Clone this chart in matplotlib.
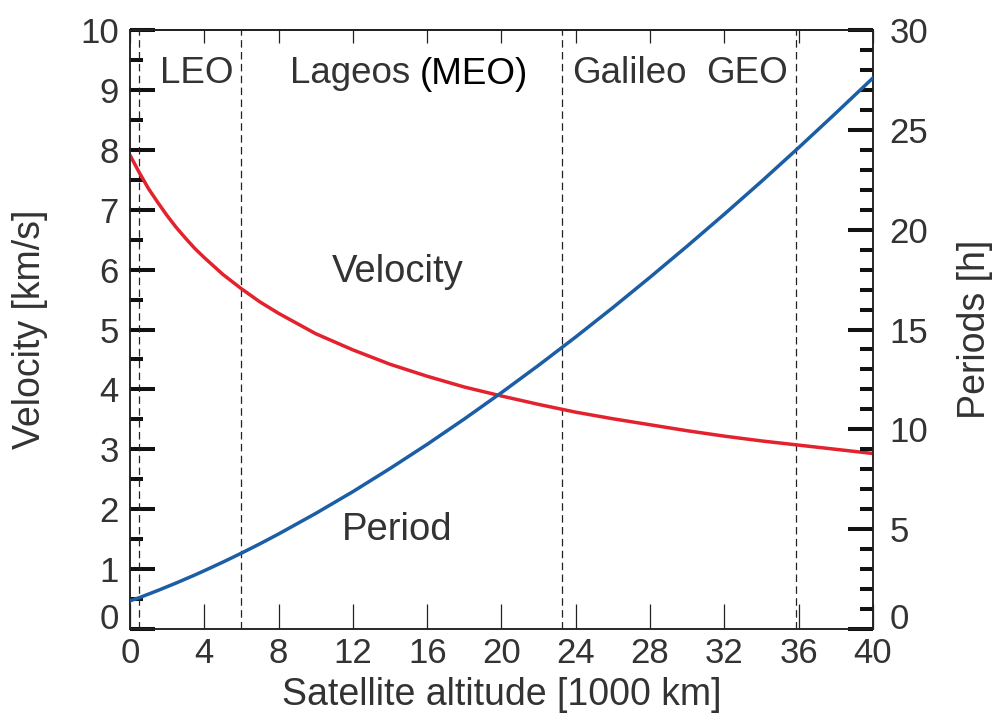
import matplotlib
matplotlib.use("Agg")
import matplotlib.pyplot as plt
from matplotlib.ticker import MultipleLocator

# altitude in 1000 km
altitude = [0, 0.5, 1, 1.5, 2, 2.5, 3, 3.5, 4, 5, 6, 7, 8, 10, 12, 14, 16, 18, 20,
            22, 24, 26, 28, 30, 32, 34, 36, 38, 40]
# velocity [km/s]
velocity = [7.91, 7.62, 7.35, 7.12, 6.90, 6.70, 6.52, 6.35, 6.20, 5.92, 5.68, 5.46, 5.27,
            4.93, 4.66, 4.42, 4.22, 4.04, 3.89,
            3.75, 3.62, 3.51, 3.41, 3.31, 3.22, 3.14, 3.07, 3.00, 2.93]
# period [h]
period = [1.41, 1.57, 1.75, 1.93, 2.12, 2.31, 2.51, 2.71, 2.92, 3.35, 3.80, 4.27, 4.76,
          5.79, 6.88, 8.04, 9.25, 10.52, 11.84,
          13.21, 14.63, 16.10, 17.62, 19.18, 20.78, 22.42, 24.11, 25.84, 27.60]

orbit_borders = [0.5, 6.0, 23.25, 35.85]
region_labels = [(1.6, "LEO"), (8.6, "Lageos"), (23.8, "Galileo"), (31.0, "GEO")]

plt.rcParams['font.family'] = ['Liberation Sans', 'DejaVu Sans']
txt = '#333333'

fig = plt.figure(figsize=(9.97, 7.22), dpi=100)
ax = fig.add_axes([0.1304, 0.1288, 0.7452, 0.8296])
ax2 = ax.twinx()

ax.plot(altitude, velocity, color='#e3222d', lw=2.5, zorder=3,
        solid_joinstyle='round', solid_capstyle='round')
ax2.plot(altitude, period, color='#1c5ea6', lw=2.5, zorder=3,
         solid_joinstyle='round', solid_capstyle='round')

for xb in orbit_borders:
    ax.axvline(xb, color='#222222', lw=0.9, linestyle=(0, (6, 3.5)), zorder=2)

ax.set_xlim(0, 40)
ax.set_ylim(0, 10)
ax2.set_ylim(0, 30)

ax.xaxis.set_major_locator(MultipleLocator(4))
ax.set_yticks(range(0, 11))
ax.yaxis.set_minor_locator(MultipleLocator(0.5))
ax2.set_yticks(range(0, 31, 5))
ax2.yaxis.set_minor_locator(MultipleLocator(1))

ax.tick_params(axis='x', which='major', direction='in', length=18, width=0.9,
               labelsize=25, labelcolor=txt, pad=6, color='#222222')
ax.tick_params(axis='y', which='major', direction='in', length=18, width=2.9,
               labelsize=25, labelcolor=txt, pad=8, color='#111111')
ax.tick_params(axis='y', which='minor', direction='in', length=9.5, width=2.9,
               color='#111111')
ax2.tick_params(axis='y', which='major', direction='in', length=18, width=2.9,
                labelsize=25, labelcolor=txt, pad=12, color='#111111')
ax2.tick_params(axis='y', which='minor', direction='in', length=9.5, width=2.9,
                color='#111111')

# zero labels sit a little above the bottom spine
ax.get_yticklabels()[0].set_va('baseline')
ax2.get_yticklabels()[0].set_va('baseline')

top = ax.secondary_xaxis('top')
top.xaxis.set_major_locator(MultipleLocator(4))
top.tick_params(direction='in', length=9.5, width=0.9, labeltop=False, color='#222222')

for a in (ax, ax2):
    for s in a.spines.values():
        s.set_linewidth(1.1)
        s.set_color('#222222')
top.spines['top'].set_linewidth(1.1)

ax.set_xlabel("Satellite altitude [1000 km]", fontsize=27, color=txt)
ax.set_ylabel("Velocity [km/s]", fontsize=27, color=txt)
ax2.set_ylabel("Periods [h]", fontsize=27, color=txt)
ax.xaxis.set_label_coords(0.5, -0.110)
ax.yaxis.set_label_coords(-0.1346, 0.5)
ax2.yaxis.set_label_coords(1.137, 0.5)
for lab in (ax.xaxis.label, ax.yaxis.label, ax2.yaxis.label):
    lab.set_va('center')
    lab.set_ha('center')

for xl, name in region_labels:
    ax.text(xl, 9.28, name, fontsize=26.5, color=txt, ha='left', va='center')
ax.text(15.6, 9.25, "(MEO)", fontsize=26.5, color='black', ha='left', va='center')

ax.text(14.4, 5.96, "Velocity", fontsize=27.5, color=txt, ha='center', va='center')
ax.text(14.4, 1.65, "Period", fontsize=27.5, color=txt, ha='center', va='center')

fig.savefig("out.png", dpi=100)
